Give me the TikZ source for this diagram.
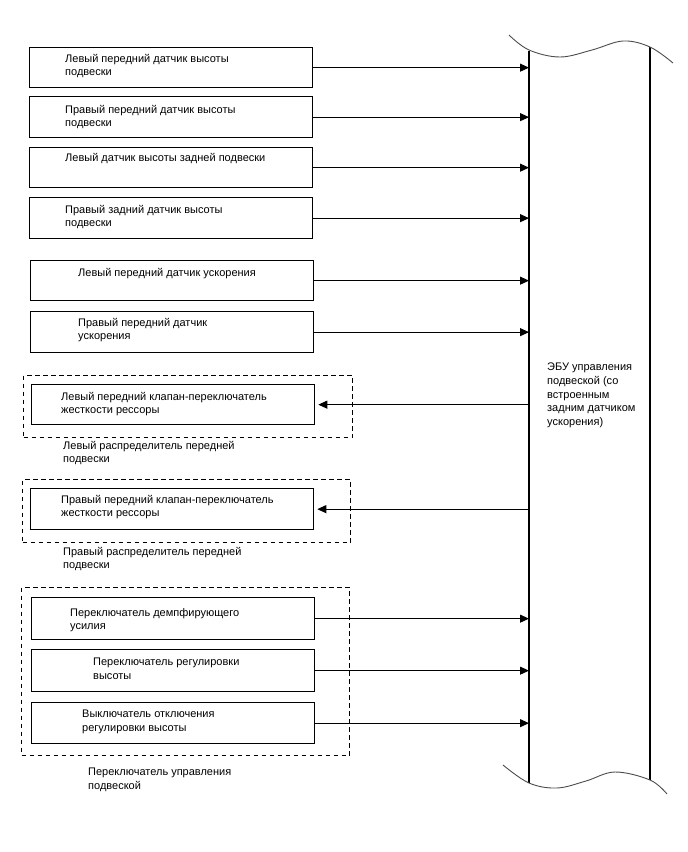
\documentclass[tikz,border=0pt]{standalone}
\usepackage{fontspec}
\setmainfont{Liberation Sans}
\usetikzlibrary{arrows.meta}
\begin{document}
\begin{tikzpicture}[x=1pt,y=-1pt,
  box/.style={draw,line width=1.3pt,minimum width=283pt,inner sep=0pt,anchor=north west},
  dbox/.style={draw,line width=1.1pt,dash pattern=on 4.5pt off 3.5pt,inner sep=0pt,anchor=north west},
  txt/.style={font=\fontsize{11}{13.6}\selectfont,align=left,anchor=north west,inner sep=0pt},
  arr/.style={line width=1pt,-{Triangle[length=9pt,width=8pt]}},
  wave/.style={line width=0.9pt,draw=black!70},
  eculine/.style={line width=1.3pt}]
\useasboundingbox (0,0) rectangle (688,852);
% ECU
\coordinate (ecuTL) at (529,51);
\coordinate (ecuBL) at (529,783);
\coordinate (ecuTR) at (650,47);
\coordinate (ecuBR) at (650,780);
\draw[eculine] (ecuTL) -- (ecuBL);
\draw[eculine] (ecuTR) -- (ecuBR);
\draw[wave] plot[smooth,tension=0.6] coordinates {(509,35) (529,50) (560,57) (592,50) (623,41) (650,47) (673,63)};
\draw[wave] plot[smooth,tension=0.6] coordinates {(503,765) (529,783) (557,788) (586,781) (615,772) (650,780) (667,794)};
\node[txt] (ecutxt) at (547,363) {ЭБУ управления\\подвеской (со\\встроенным\\задним датчиком\\ускорения)};
% sensor boxes
\node[box,minimum height=40pt] (b1) at (29,47) {};
\node[box,minimum height=41pt] (b2) at (29,96) {};
\node[box,minimum height=40pt] (b3) at (29,147) {};
\node[box,minimum height=41pt] (b4) at (29,197) {};
\node[box,minimum height=40pt] (b5) at (30,260) {};
\node[box,minimum height=41pt] (b6) at (30,311) {};
\node[txt] at (65,54) {Левый передний датчик высоты\\подвески};
\node[txt] at (65,105) {Правый передний датчик высоты\\подвески};
\node[txt] at (65,153) {Левый датчик высоты задней подвески};
\node[txt] at (65,205) {Правый задний датчик высоты\\подвески};
\node[txt] at (78,268) {Левый передний датчик ускорения};
\node[txt] at (78,318) {Правый передний датчик\\ускорения};
\foreach \b in {b1,b2,b3,b4,b5,b6}{
  \draw[arr] (\b.east) -- (\b.east -| ecuTL);
}
% valves
\node[dbox,minimum width=329pt,minimum height=62pt] (d1) at (23,375) {};
\node[box,minimum height=40pt] (v1) at (31,384) {};
\node[txt] at (61,392) {Левый передний клапан-переключатель\\жесткости рессоры};
\node[txt] at (63,441) {Левый распределитель передней\\подвески};
\node[dbox,minimum width=328pt,minimum height=63pt] (d2) at (22,479) {};
\node[box,minimum height=41pt] (v2) at (30,488) {};
\node[txt] at (61,495) {Правый передний клапан-переключатель\\жесткости рессоры};
\node[txt] at (63,547) {Правый распределитель передней\\подвески};
\draw[arr] (v1.east -| ecuTL) -- ([xshift=3pt]v1.east);
\draw[arr] (v2.east -| ecuTL) -- ([xshift=3pt]v2.east);
% switches
\node[dbox,minimum width=328pt,minimum height=168pt] (d3) at (21,587) {};
\node[box,minimum height=42pt] (s1) at (31,597) {};
\node[box,minimum height=42pt] (s2) at (31,649) {};
\node[box,minimum height=41pt] (s3) at (31,702) {};
\node[txt] at (70,608) {Переключатель демпфирующего\\усилия};
\node[txt] at (93,658) {Переключатель регулировки\\высоты};
\node[txt] at (82,710) {Выключатель отключения\\регулировки высоты};
\node[txt] at (88,768) {Переключатель управления\\подвеской};
\foreach \b in {s1,s2,s3}{
  \draw[arr] (\b.east) -- (\b.east -| ecuTL);
}
\end{tikzpicture}
\end{document}
